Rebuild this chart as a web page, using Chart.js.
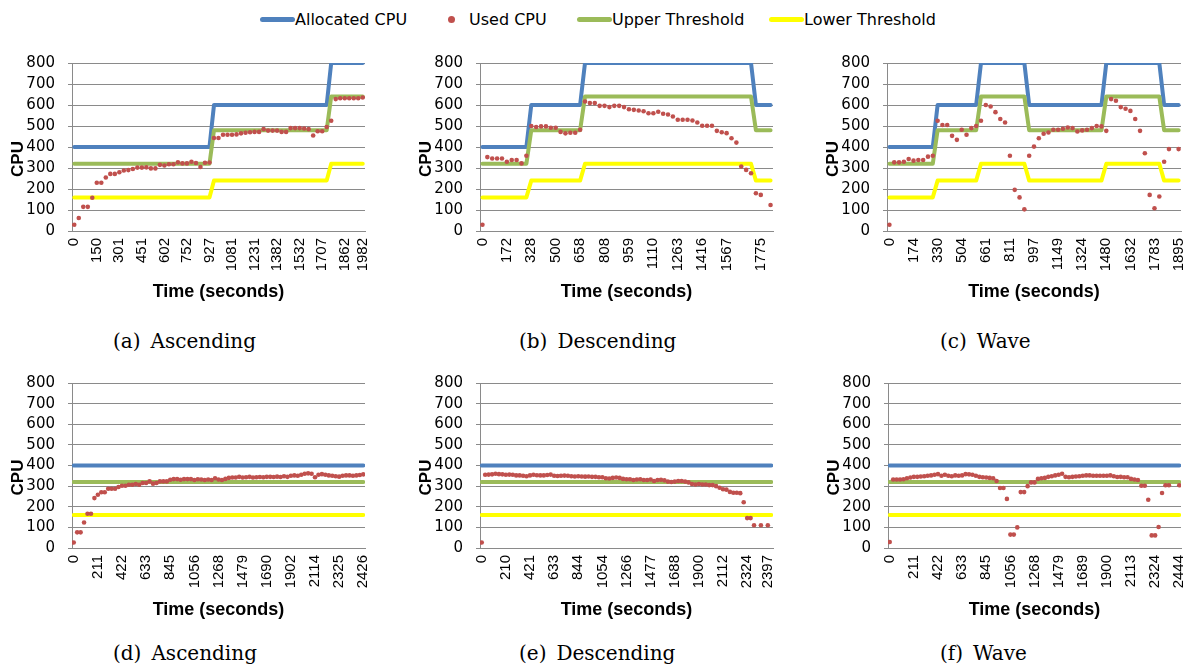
<!DOCTYPE html>
<html>
<head>
<meta charset="utf-8">
<title>Allocated vs used CPU</title>
<script src="https://cdn.jsdelivr.net/npm/chart.js@4.4.1/dist/chart.umd.min.js"></script>
<style>
  html, body { margin: 0; padding: 0; background: #fff; }
  #page { position: relative; width: 1186px; height: 668px; overflow: hidden; }
  canvas { position: absolute; }
  .legend-item { position: absolute; top: 10px; height: 18px; display: flex; align-items: center;
                 font-family: "DejaVu Sans", sans-serif; font-size: 16px; color: #000; white-space: nowrap; }
  .legend-line { width: 35px; height: 5px; border-radius: 3px; }
  .legend-dot { width: 7px; height: 7px; border-radius: 50%; background: #C0504D; margin: 0 14px 0 -3px; }
  .caption { position: absolute; font-family: "DejaVu Serif", serif; font-size: 20px; line-height: 24px;
             color: #000; white-space: nowrap; }
  .caption span { margin-left: 10px; }
</style>
</head>
<body>
<div id="page">
  <div class="legend-item" style="left:260px"><span class="legend-line" style="background:#4F81BD"></span>Allocated CPU</div>
  <div class="legend-item" style="left:451px"><span class="legend-dot"></span>Used CPU</div>
  <div class="legend-item" style="left:577px"><span class="legend-line" style="background:#9BBB59"></span>Upper Threshold</div>
  <div class="legend-item" style="left:769px"><span class="legend-line" style="background:#FFFF00"></span>Lower Threshold</div>

  <canvas id="chart-a" width="380" height="270" style="left:0px;top:40px"></canvas>
  <canvas id="chart-b" width="390" height="270" style="left:400px;top:40px"></canvas>
  <canvas id="chart-c" width="386" height="270" style="left:800px;top:40px"></canvas>
  <canvas id="chart-d" width="380" height="270" style="left:0px;top:360px"></canvas>
  <canvas id="chart-e" width="390" height="270" style="left:400px;top:360px"></canvas>
  <canvas id="chart-f" width="386" height="270" style="left:800px;top:360px"></canvas>

  <div class="caption" style="left:113px;top:329px">(a)<span>Ascending</span></div>
  <div class="caption" style="left:519px;top:329px">(b)<span>Descending</span></div>
  <div class="caption" style="left:940px;top:329px">(c)<span>Wave</span></div>
  <div class="caption" style="left:113px;top:641px">(d)<span>Ascending</span></div>
  <div class="caption" style="left:519px;top:641px">(e)<span>Descending</span></div>
  <div class="caption" style="left:940px;top:641px">(f)<span>Wave</span></div>
</div>

<script>
// --- DATA: (a) ascending, scaling ---
// x = sample index along the category axis, labels show the time of every 5th sample
const timeLabelsA = ['0', '150', '301', '451', '602', '752', '927', '1081', '1231', '1382', '1532', '1707', '1862', '1982'];
const timeTickAtA = [0, 5, 10, 15, 20, 25, 30, 35, 40, 45, 50, 55, 60, 64];
const usedA = [30, 62, 115, 115, 158, 230, 230, 255, 272, 272, 280, 288, 290, 295, 302, 302, 303, 298, 298, 315,
               312, 318, 318, 327, 322, 322, 330, 324, 305, 325, 326, 443, 443, 458, 458, 458, 460, 465, 468, 470,
               472, 472, 485, 478, 478, 478, 472, 472, 490, 490, 490, 488, 485, 455, 475, 475, 495, 525, 628, 632,
               632, 632, 632, 632, 636];
const allocA = [[0, 400], [30, 400], [31, 600], [56, 600], [57, 800], [64, 800]];
const upperA = [[0, 320], [30, 320], [31, 480], [56, 480], [57, 640], [64, 640]];
const lowerA = [[0, 160], [30, 160], [31, 240], [56, 240], [57, 320], [64, 320]];

// --- DATA: (b) descending, scaling ---
const timeLabelsB = ['0', '172', '328', '500', '658', '808', '959', '1110', '1263', '1416', '1567', '1775'];
const timeTickAtB = [0, 5, 10, 15, 20, 25, 30, 35, 40, 45, 50, 57];
const usedB = [30, 352, 345, 345, 345, 330, 338, 338, 322, 358, 500, 495, 498, 498, 492, 492, 472, 465, 468, 468,
               482, 617, 609, 609, 596, 596, 590, 596, 596, 590, 580, 577, 574, 570, 561, 561, 568, 558, 555, 545,
               530, 530, 530, 526, 517, 501, 501, 501, 477, 470, 466, 442, 421, 307, 291, 275, 180, 172, null, 124];
const allocB = [[0, 400], [9, 400], [10, 600], [20, 600], [21, 800], [55, 800], [56, 600], [59, 600]];
const upperB = [[0, 320], [9, 320], [10, 480], [20, 480], [21, 640], [55, 640], [56, 480], [59, 480]];
const lowerB = [[0, 160], [9, 160], [10, 240], [20, 240], [21, 320], [55, 320], [56, 240], [59, 240]];

// --- DATA: (c) wave, scaling ---
const timeLabelsC = ['0', '174', '330', '504', '661', '811', '997', '1149', '1324', '1480', '1632', '1783', '1895'];
const timeTickAtC = [0, 5, 10, 15, 20, 25, 30, 35, 40, 45, 50, 55, 60];
const usedC = [30, 327, 327, 330, 343, 335, 338, 338, 354, 358, 525, 505, 505, 453, 434, 482, 458, 490, 500, 525,
               600, 593, 566, 533, 517, 358, 196, 160, 103, 358, 402, 442, 463, 469, 482, 482, 487, 493, 490, 474,
               479, 482, 490, 500, 498, 477, 628, 620, 590, 582, 572, 533, 477, 370, 172, 108, 164, 330, 390, null,
               390];
const allocC = [[0, 400], [9, 400], [10, 600], [18, 600], [19, 800], [28, 800], [29, 600], [44, 600], [45, 800], [56, 800], [57, 600], [60, 600]];
const upperC = [[0, 320], [9, 320], [10, 480], [18, 480], [19, 640], [28, 640], [29, 480], [44, 480], [45, 640], [56, 640], [57, 480], [60, 480]];
const lowerC = [[0, 160], [9, 160], [10, 240], [18, 240], [19, 320], [28, 320], [29, 240], [44, 240], [45, 320], [56, 320], [57, 240], [60, 240]];

// --- DATA: (d) ascending, fixed allocation ---
const timeLabelsD = ['0', '211', '422', '633', '845', '1056', '1268', '1479', '1690', '1902', '2114', '2325', '2426'];
const timeTickAtD = [0, 7, 14, 21, 28, 35, 42, 49, 56, 63, 70, 77, 84];
const usedD = [27, 76, 76, 124, 166, 166, 242, 258, 270, 270, 287, 287, 287, 296, 302, 302, 307, 307, 310, 307,
               315, 315, 323, 312, 315, 323, 323, 323, 331, 334, 334, 331, 334, 334, 334, 330, 333, 332, 330, 332,
               330, 338, 332, 330, 335, 340, 342, 342, 345, 342, 343, 345, 342, 343, 344, 343, 345, 345, 344, 346,
               344, 348, 345, 350, 352, 350, 355, 360, 362, 360, 343, 355, 358, 355, 352, 350, 348, 346, 350, 352,
               352, 350, 352, 354, 357];
const allocD = [[0, 400], [84, 400]];
const upperD = [[0, 320], [84, 320]];
const lowerD = [[0, 160], [84, 160]];

// --- DATA: (e) descending, fixed allocation ---
const timeLabelsE = ['0', '210', '421', '633', '844', '1054', '1266', '1477', '1688', '1900', '2112', '2324', '2397'];
const timeTickAtE = [0, 7, 14, 21, 28, 35, 42, 49, 56, 63, 70, 77, 83];
const usedE = [27, 355, 356, 357, 360, 358, 357, 355, 356, 355, 352, 352, 350, 348, 352, 355, 353, 352, 352, 354,
               356, 350, 349, 350, 351, 350, 348, 347, 348, 347, 346, 347, 345, 345, 343, 343, 338, 337, 340, 342,
               340, 335, 333, 333, 330, 332, 333, 330, 330, 332, 325, 330, 331, 328, 322, 320, 322, 325, 325, 322,
               318, 310, 308, 310, 308, 308, 305, 305, 300, 292, 285, 283, 272, 268, 268, 266, 222, 145, 145, 110,
               null, 110, null, 110, null];
const allocE = [[0, 400], [84, 400]];
const upperE = [[0, 320], [84, 320]];
const lowerE = [[0, 160], [84, 160]];

// --- DATA: (f) wave, fixed allocation ---
const timeLabelsF = ['0', '211', '422', '633', '845', '1056', '1268', '1479', '1689', '1900', '2113', '2324', '2444'];
const timeTickAtF = [0, 7, 14, 21, 28, 35, 42, 49, 56, 63, 70, 77, 84];
const usedF = [29, 332, 332, 332, 333, 338, 342, 345, 345, 347, 348, 350, 352, 355, 358, 350, 355, 350, 348, 352,
               350, 352, 358, 357, 355, 350, 345, 343, 342, 340, 338, 325, 291, 291, 238, 65, 65, 100, 271, 271,
               300, 318, 318, 335, 338, 340, 345, 348, 352, 355, 360, 345, 343, 345, 347, 348, 350, 352, 352, 350,
               350, 350, 350, 350, 352, 348, 344, 345, 343, 343, 335, 332, 330, 302, 302, 234, 61, 61, 102, 267,
               304, 304, null, null, 304];
const allocF = [[0, 400], [84, 400]];
const upperF = [[0, 320], [84, 320]];
const lowerF = [[0, 160], [84, 160]];

// --- STYLE ---
const BLUE = '#4F81BD';
const RED = '#C0504D';
const GREEN = '#9BBB59';
const YELLOW = '#FFFF00';
const GRID_GRAY = '#8a8a8a';
const TICK_FONT_Y = { family: '"DejaVu Sans", sans-serif', size: 15 };
const TICK_FONT_X = { family: '"Liberation Sans", Arial, sans-serif', size: 15 };
const TITLE_FONT = { family: '"Liberation Sans", Arial, sans-serif', size: 18, weight: 'bold' };

// "CPU" sits a bit below the middle of the axis in the original, so it is drawn here
const cpuTitlePlugin = {
    id: 'cpuTitle',
    afterDraw(chart) {
        const { ctx, chartArea } = chart;
        ctx.save();
        ctx.translate(chartArea.left - 54, (chartArea.top + chartArea.bottom) / 2 + 12);
        ctx.rotate(-Math.PI / 2);
        ctx.font = 'bold 17px "Liberation Sans", Arial, sans-serif';
        ctx.fillStyle = '#000';
        ctx.textAlign = 'center';
        ctx.textBaseline = 'middle';
        ctx.fillText('CPU', 0, 0);
        ctx.restore();
    }
};

function toPoints(pairs) {
    return pairs.map(([x, y]) => ({ x: x, y: y }));
}

function stepLine(label, pairs, color) {
    return {
        label: label,
        data: toPoints(pairs),
        borderColor: color,
        backgroundColor: color,
        borderWidth: 4,
        borderCapStyle: 'round',
        borderJoinStyle: 'round',
        pointRadius: 0,
        fill: false
    };
}

function buildChart(canvasId, p) {
    const ctx = document.getElementById(canvasId).getContext('2d');
    const usedPoints = p.used.map((v, i) => ({ x: i, y: v }));

    new Chart(ctx, {
        type: 'line',
        data: {
            datasets: [
                // first dataset is painted last, so the dots stay on top
                {
                    label: 'Used CPU',
                    data: usedPoints,
                    showLine: false,
                    pointRadius: 2.3,
                    pointBorderWidth: 0,
                    pointBackgroundColor: RED,
                    borderColor: RED
                },
                stepLine('Lower Threshold', p.lower, YELLOW),
                stepLine('Upper Threshold', p.upper, GREEN),
                stepLine('Allocated CPU', p.alloc, BLUE)
            ]
        },
        options: {
            responsive: false,
            animation: false,
            layout: { padding: { top: 23, right: p.padRight, bottom: 0, left: 0 } },
            plugins: { legend: { display: false }, tooltip: { enabled: false } },
            scales: {
                x: {
                    type: 'linear',
                    min: -0.5,
                    max: p.used.length - 0.5,
                    grid: { display: false, drawTicks: false },
                    border: { display: true, color: GRID_GRAY, width: 1 },
                    afterBuildTicks: (scale) => {
                        scale.ticks = p.tickAt.map(v => ({ value: v }));
                    },
                    afterFit: (scale) => {
                        scale.height = p.xHeight;
                        scale.paddingLeft = 0;
                        scale.paddingRight = 0;
                    },
                    ticks: {
                        autoSkip: false,
                        minRotation: 90,
                        maxRotation: 90,
                        padding: 7,
                        color: '#000',
                        font: TICK_FONT_X,
                        callback: (value, index) => p.tickLabels[index]
                    },
                    title: {
                        display: true,
                        text: 'Time (seconds)',
                        color: '#000',
                        font: TITLE_FONT,
                        padding: { top: 0, bottom: p.titlePad }
                    }
                },
                y: {
                    min: 0,
                    max: 800,
                    ticks: { stepSize: 100, autoSkip: false, padding: 13, color: '#000', font: TICK_FONT_Y },
                    grid: { color: GRID_GRAY, lineWidth: 1, tickLength: 4 },
                    border: { color: GRID_GRAY, width: 1 },
                    afterFit: (scale) => {
                        scale.width = p.yWidth;
                        scale.paddingTop = 0;
                        scale.paddingBottom = 0;
                    }
                }
            }
        },
        plugins: [cpuTitlePlugin]
    });
}

// --- START ---
window.addEventListener('load', function () {
    const top = { xHeight: 79, titlePad: 7 };
    const bottom = { xHeight: 82, titlePad: 9 };

    buildChart('chart-a', { ...top, yWidth: 72, padRight: 15, used: usedA, alloc: allocA, upper: upperA, lower: lowerA, tickAt: timeTickAtA, tickLabels: timeLabelsA });
    buildChart('chart-b', { ...top, yWidth: 80, padRight: 17, used: usedB, alloc: allocB, upper: upperB, lower: lowerB, tickAt: timeTickAtB, tickLabels: timeLabelsB });
    buildChart('chart-c', { ...top, yWidth: 87, padRight: 5, used: usedC, alloc: allocC, upper: upperC, lower: lowerC, tickAt: timeTickAtC, tickLabels: timeLabelsC });
    buildChart('chart-d', { ...bottom, yWidth: 72, padRight: 15, used: usedD, alloc: allocD, upper: upperD, lower: lowerD, tickAt: timeTickAtD, tickLabels: timeLabelsD });
    buildChart('chart-e', { ...bottom, yWidth: 80, padRight: 17, used: usedE, alloc: allocE, upper: upperE, lower: lowerE, tickAt: timeTickAtE, tickLabels: timeLabelsE });
    buildChart('chart-f', { ...bottom, yWidth: 88, padRight: 5, used: usedF, alloc: allocF, upper: upperF, lower: lowerF, tickAt: timeTickAtF, tickLabels: timeLabelsF });
});
</script>
</body>
</html>
